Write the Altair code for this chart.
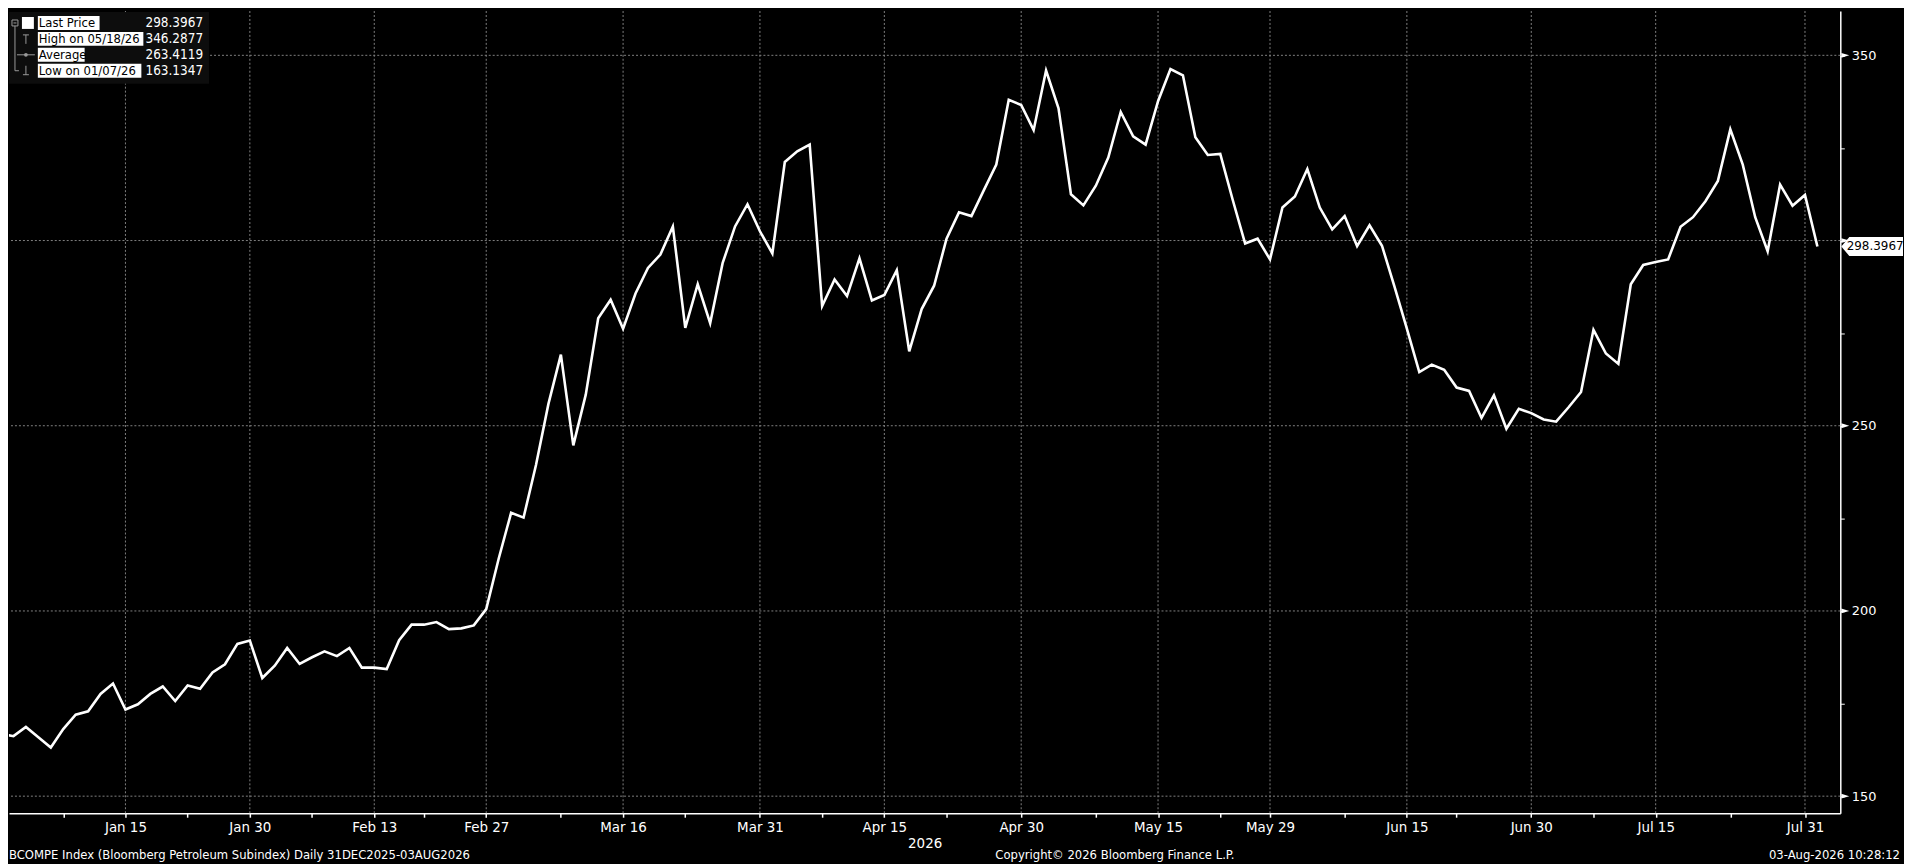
import altair as alt
import pandas as pd

# ---------------- data ----------------
values = [
    166.8, 166.2, 168.7, 165.9, 163.1347, 168.1, 172.0, 172.9, 177.6, 180.4,
    173.4, 174.8, 177.6, 179.6, 175.7, 179.9, 179.0, 183.4, 185.6, 191.1,
    192.0, 181.9, 185.2, 190.0, 185.7, 187.5, 189.1, 187.8, 190.0, 184.7,
    184.7, 184.3, 192.1, 196.3, 196.3, 197.0, 195.1, 195.3, 196.1, 200.5,
    214.1, 226.5, 225.2, 239.4, 255.9, 269.2, 244.7, 258.4, 279.0, 284.0,
    276.2, 285.7, 292.6, 296.2, 303.8, 276.4, 288.2, 277.7, 293.9, 303.8,
    309.8, 302.5, 296.5, 321.2, 324.1, 325.9, 282.3, 289.5, 285.0, 295.2,
    283.8, 285.3, 292.0, 270.1, 281.5, 287.8, 300.5, 307.6, 306.6, 313.6,
    320.5, 338.0, 336.6, 329.8, 345.9, 335.7, 312.5, 309.5, 314.8, 322.4,
    334.7, 328.1, 325.9, 337.6, 346.2877, 344.6, 327.9, 323.1, 323.4, 311.0,
    299.2, 300.5, 294.9, 308.9, 311.9, 319.3, 308.9, 303.0, 306.6, 298.5,
    304.1, 298.6, 287.6, 276.2, 264.5, 266.5, 265.1, 260.3, 259.4, 252.1,
    258.2, 249.2, 254.6, 253.4, 251.7, 251.1, 255.0, 259.1, 275.9, 269.5,
    266.7, 288.2, 293.4, 294.2, 294.9, 303.7, 306.3, 310.6, 316.1, 330.0,
    320.5, 306.3, 297.1, 315.1, 309.4, 312.3, 298.3967,
]

# trading-day positions of the labelled dates and of the minor ticks
major_idx = [10, 20, 30, 39, 50, 61, 71, 82, 93, 102, 113, 123, 133, 145]
major_labels = ["Jan 15", "Jan 30", "Feb 13", "Feb 27", "Mar 16", "Mar 31", "Apr 15",
                "Apr 30", "May 15", "May 29", "Jun 15", "Jun 30", "Jul 15", "Jul 31"]
minor_idx = [5, 15, 25, 34, 45, 55, 66, 76, 88, 98, 108, 117, 128, 139]

y_major = [150, 200, 250, 300, 350]
y_ticks = [150, 175, 200, 225, 250, 275, 300, 325, 350]

legend_labels = ["Last Price", "High on 05/18/26", "Average", "Low on 01/07/26"]
legend_values = ["298.3967", "346.2877", "263.4119", "163.1347"]
last_label = "298.3967"

footer_left = "BCOMPE Index (Bloomberg Petroleum Subindex) Daily 31DEC2025-03AUG2026"
footer_mid = "Copyright\u00a9 2026 Bloomberg Finance L.P."
footer_right = "03-Aug-2026 10:28:12"
axis_year = "2026"

# ---------------- layout / style ----------------
W, H = 1840, 806
NARROW = "Liberation Sans Narrow, Arial Narrow, DejaVu Sans Condensed, sans-serif"
WIDE = "DejaVu Sans, Verdana, sans-serif"
GRID = "#808080"
GRAY = "#9a9a9a"

line_df = pd.DataFrame({"idx": list(range(len(values))), "val": values})
one = pd.DataFrame({"k": [0]})

x_scale = alt.Scale(domain=[0.64, 147.84], nice=False, zero=False)
y_scale = alt.Scale(domain=[145.4, 361.96], nice=False, zero=False)

idx_js = "[" + ",".join(str(i) for i in major_idx) + "]"
lab_js = "[" + ",".join("'" + s + "'" for s in major_labels) + "]"
label_expr = f"indexof({idx_js}, datum.value) >= 0 ? {lab_js}[indexof({idx_js}, datum.value)] : ''"
# the last-price tag covers the nearest major label, as in the reference
y_label_expr = (f"datum.value % 50 == 0 && abs(datum.value - {values[-1]}) > 8 "
                f"? datum.label : ''")

x_axis = alt.Axis(
    values=sorted(major_idx + minor_idx), labelExpr=label_expr, grid=False,
    domainColor="white", domainWidth=1.5, tickColor="white", tickSize=4, tickWidth=1.5,
    labelColor="white", labelFont=NARROW, labelFontSize=15, labelPadding=2,
    labelFlush=False, labelOverlap=False, labelBaseline="top",
    titleColor="white", titleFont=NARROW, titleFontSize=15, titleFontWeight="normal",
    titlePadding=1,
)
y_axis = alt.Axis(
    orient="right", values=y_ticks, labelExpr=y_label_expr,
    grid=False, domainColor="white", domainWidth=1.5, tickColor="white", tickSize=4,
    tickWidth=1, labelColor="white", labelFont=WIDE, labelFontSize=13, labelPadding=7,
    labelFlush=False, labelOverlap=False, labelBaseline="middle",
)

x_enc = alt.X("idx:Q", scale=x_scale, axis=x_axis, title=axis_year)
y_enc = alt.Y("val:Q", scale=y_scale, axis=y_axis, title=None)


def rule(x1, y1, x2, y2, color=GRAY, width=1):
    return alt.Chart(one).mark_rule(color=color, strokeWidth=width, clip=False).encode(
        x=alt.value(x1), x2=alt.value(x2), y=alt.value(y1), y2=alt.value(y2))


def box(x1, y1, x2, y2, fill, stroke=None):
    kw = dict(fill=fill, clip=False)
    if stroke:
        kw.update(stroke=stroke, strokeWidth=1)
    return alt.Chart(one).mark_rect(**kw).encode(
        x=alt.value(x1), x2=alt.value(x2), y=alt.value(y1), y2=alt.value(y2))


def label(txt, x, y, color="white", align="left", font=NARROW, size=13):
    return alt.Chart(one).mark_text(
        text=txt, align=align, baseline="middle", font=font, fontSize=size,
        color=color, clip=False).encode(x=alt.value(x), y=alt.value(y))


layers = []

# grid
layers.append(alt.Chart(pd.DataFrame({"idx": major_idx})).mark_rule(
    color=GRID, strokeWidth=1, strokeDash=[2, 2]).encode(x=x_enc))
layers.append(alt.Chart(pd.DataFrame({"val": y_major})).mark_rule(
    color=GRID, strokeWidth=1, strokeDash=[2, 2]).encode(y=y_enc))

# price line
layers.append(alt.Chart(line_df).mark_line(
    color="white", strokeWidth=2.6, clip=True, strokeJoin="miter").encode(x=x_enc, y=y_enc))

# legend panel
layers.append(box(0, 1, 201, 73, "#0d0d0d"))
label_w = [62, 106, 47, 104]
for i, (lab, val) in enumerate(zip(legend_labels, legend_values)):
    cy = 12 + 16 * i
    layers.append(box(29, cy - 7, 29 + label_w[i], cy + 7, "white"))
    layers.append(label(lab, 30, cy, color="black", size=13))
    layers.append(label(val, 195, cy, color="white", align="right", size=13.5))
# legend icons
layers.append(box(13, 6, 25, 18, "white"))
layers.append(box(3, 9, 9, 15, "#0d0d0d", stroke=GRAY))
layers.append(rule(4.5, 12, 7.5, 12))
layers.append(rule(6, 15, 6, 60))
layers.append(rule(6, 60, 10, 60))
layers.append(rule(14, 24, 20, 24))
layers.append(rule(17, 24, 17, 33))
layers.append(rule(8, 44, 26, 44))
layers.append(alt.Chart(one).mark_point(filled=True, color=GRAY, opacity=1, size=14,
                                        clip=False).encode(x=alt.value(17), y=alt.value(44)))
layers.append(rule(17, 55, 17, 64))
layers.append(rule(14, 64, 20, 64))

# right-axis major markers
layers.append(alt.Chart(pd.DataFrame({"val": y_major})).mark_point(
    shape="M -1 -0.6 L 1 0 L -1 0.6 Z", filled=True, color="white", opacity=1,
    size=64, strokeWidth=0, clip=False).encode(x=alt.value(W + 5), y=y_enc))

# last price tag
last_df = pd.DataFrame({"val": [values[-1]]})
layers.append(alt.Chart(last_df).mark_point(
    shape="M -1 0 L -0.74 -0.31 L 1 -0.31 L 1 0.31 L -0.74 0.31 Z", filled=True,
    color="white", opacity=1, size=62 * 62, strokeWidth=0, clip=False).encode(
    x=alt.value(W + 32), y=y_enc))
layers.append(alt.Chart(last_df).mark_text(
    text=last_label, align="center", baseline="middle", font=WIDE, fontSize=12,
    color="black", clip=False).encode(x=alt.value(W + 35), y=y_enc))

# footer
layers.append(label(footer_left, 0, H + 42))
layers.append(label(footer_mid, 991, H + 42))
layers.append(label(footer_right, 1900, H + 42, align="right"))

chart = alt.layer(*layers).properties(
    width=W, height=H, background="black",
    padding={"left": 0, "top": 0, "right": 0, "bottom": 0},
).configure_view(stroke=None)

chart.save("out.html", embed_options={"renderer": "svg", "actions": False})
